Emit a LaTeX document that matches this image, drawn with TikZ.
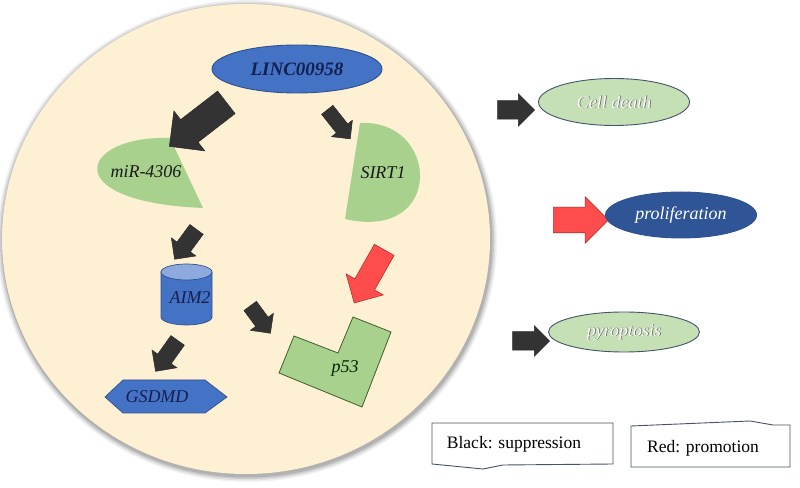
\documentclass[tikz,border=0pt]{standalone}
\usepackage{fontspec}
\setmainfont{Liberation Serif}
\usetikzlibrary{shapes.geometric,shapes.arrows}
\definecolor{cream}{HTML}{FDF0D3}
\definecolor{blueone}{HTML}{4472C4}
\definecolor{blueedge}{HTML}{2F528F}
\definecolor{bluetop}{HTML}{8EA9DB}
\definecolor{greenone}{HTML}{A9D18E}
\definecolor{greenedge}{HTML}{3E5F2C}
\definecolor{greentwo}{HTML}{C5E0B4}
\definecolor{ovaledge}{HTML}{44546A}
\definecolor{darkblue}{HTML}{2F5597}
\definecolor{navytext}{HTML}{14204F}
\definecolor{arrowblack}{HTML}{333333}
\definecolor{redfill}{HTML}{FF4D4D}
\definecolor{rededge}{HTML}{B83030}
\definecolor{legendedge}{HTML}{44546A}
\begin{document}
\begin{tikzpicture}[x=1pt,y=1pt]
\tikzset{
  lbl/.style={font=\fontsize{18}{20}\selectfont\itshape, inner sep=0pt},
  blkarrow/.style n args={3}{single arrow, draw=arrowblack!80!black, fill=arrowblack, line width=0.5pt, inner xsep=0pt, inner ysep=#2, minimum height=#1, single arrow head extend=#3},
  redarrow/.style n args={3}{single arrow, draw=rededge, fill=redfill, line width=0.6pt, inner xsep=0pt, inner ysep=#2, minimum height=#1, single arrow head extend=#3},
  oval/.style={ellipse, inner sep=0pt, line width=0.9pt},
  legendbox/.style={draw=legendedge, fill=white, line width=0.9pt},
}
\useasboundingbox (0,0) rectangle (800,487);
\fill[white] (0,0) rectangle (800,487);
% cell with soft shadow
\foreach \r/\o in {6/0.05,4.5/0.07,3/0.09,1.5/0.12}
  \fill[black,opacity=\o] (247,246) ellipse [x radius=244+\r, y radius=235+\r];
\fill[cream] (246,248) ellipse [x radius=244, y radius=235];

% LINC00958
\node[oval, draw=blueedge, fill=blueone, minimum width=170, minimum height=48,
      font=\fontsize{19}{21}\selectfont\itshape\bfseries, text=navytext] (linc) at (297,418) {LINC00958};

% miR-4306 wedge
\fill[greenone] (170,349) .. controls (80,352) and (55,285) .. (203,279) -- cycle;
\node[lbl, text=black!90] (mir) at (146,315) {miR-4306};

% SIRT1 wedge
\fill[greenone] (360,364) .. controls (440,368) and (445,245) .. (345,268) -- cycle;
\node[lbl, text=black!90] (sirt) at (383,314) {SIRT1};

% AIM2 cylinder
\filldraw[fill=blueone, draw=blueedge, line width=0.7pt] (161,215) -- (161,170)
  arc[start angle=180, end angle=360, x radius=25.5, y radius=8] -- (212,215) -- cycle;
\filldraw[fill=bluetop, draw=blueedge, line width=0.7pt] (186.5,215) ellipse [x radius=25.5, y radius=8];
\node[lbl, text=navytext] (aim) at (190,189) {AIM2};

% GSDMD hexagon
\filldraw[fill=blueone, draw=blueedge, line width=0.7pt] (105,90) -- (123,107) -- (205,107) -- (227,90) -- (205,74) -- (123,74) -- cycle;
\node[lbl, text=navytext] (gsdmd) at (157,90) {GSDMD};

% p53 L-shape
\filldraw[fill=greenone, draw=greenedge, line width=0.8pt] (353,170) -- (391,155) -- (362,80) -- (279,114) -- (294,151) -- (338,134) -- cycle;
\node[lbl, text=black!85!green] (p) at (345,119) {p53};

% arrows inside the cell
\node[blkarrow={72}{14}{11}, rotate=217.7] (a1) at (203.5,367) {};
\node[blkarrow={37}{7}{6}, rotate=-51.6] (a2) at (336.5,365.5) {};
\node[blkarrow={37}{8}{7}, rotate=233.7] (a3) at (188,246) {};
\node[blkarrow={34}{7.5}{6.5}, rotate=-53.5] (a4) at (258,170.5) {};
\node[blkarrow={38}{8}{7}, rotate=234.6] (a5) at (169,134.5) {};
\node[redarrow={61}{11}{10}, rotate=240.5] (a6) at (372,215.5) {};

% outcome arrows
\node[blkarrow={37}{9}{7}] (a7) at (511.5,377) {};
\node[redarrow={55}{12.5}{10.5}] (a8) at (574.5,267) {};
\node[blkarrow={37}{9}{6}] (a9) at (526.5,146) {};

% outcome ovals
\node[oval, draw=ovaledge, fill=greentwo, minimum width=151, minimum height=47] (cell) at (614,385) {};
\node[lbl, text=gray!70!black] (cells) at ([shift={(0.8,-0.8)}]cell.center) {Cell death};
\node[lbl, text=white] (cellt) at (cell.center) {Cell death};

\node[oval, draw=blueedge, fill=darkblue, minimum width=151, minimum height=46] (prol) at (681,272) {};
\node[lbl, text=white] (prolt) at (prol.center) {proliferation};

\node[oval, draw=ovaledge, fill=greentwo, minimum width=151, minimum height=40] (pyro) at (624,155) {};
\node[lbl, text=gray!70!black] (pyros) at ([shift={(0.8,-0.8)}]pyro.center) {pyroptosis};
\node[lbl, text=white] (pyrot) at (pyro.center) {pyroptosis};

% legend
\draw[legendbox] (432,64) -- (613,64) -- (613,23) -- (503,22) -- (483,18) -- (432,23) -- cycle;
\node[font=\fontsize{17.5}{20}\selectfont, inner sep=0pt] (blk) at (514,43) {Black: suppression};
\draw[legendbox] (631,61) -- (750,66) -- (773,62) -- (790,62) -- (790,20) -- (631,20) -- cycle;
\node[font=\fontsize{17.5}{20}\selectfont, inner sep=0pt] (red) at (703,39) {Red: promotion};
\end{tikzpicture}
\end{document}
